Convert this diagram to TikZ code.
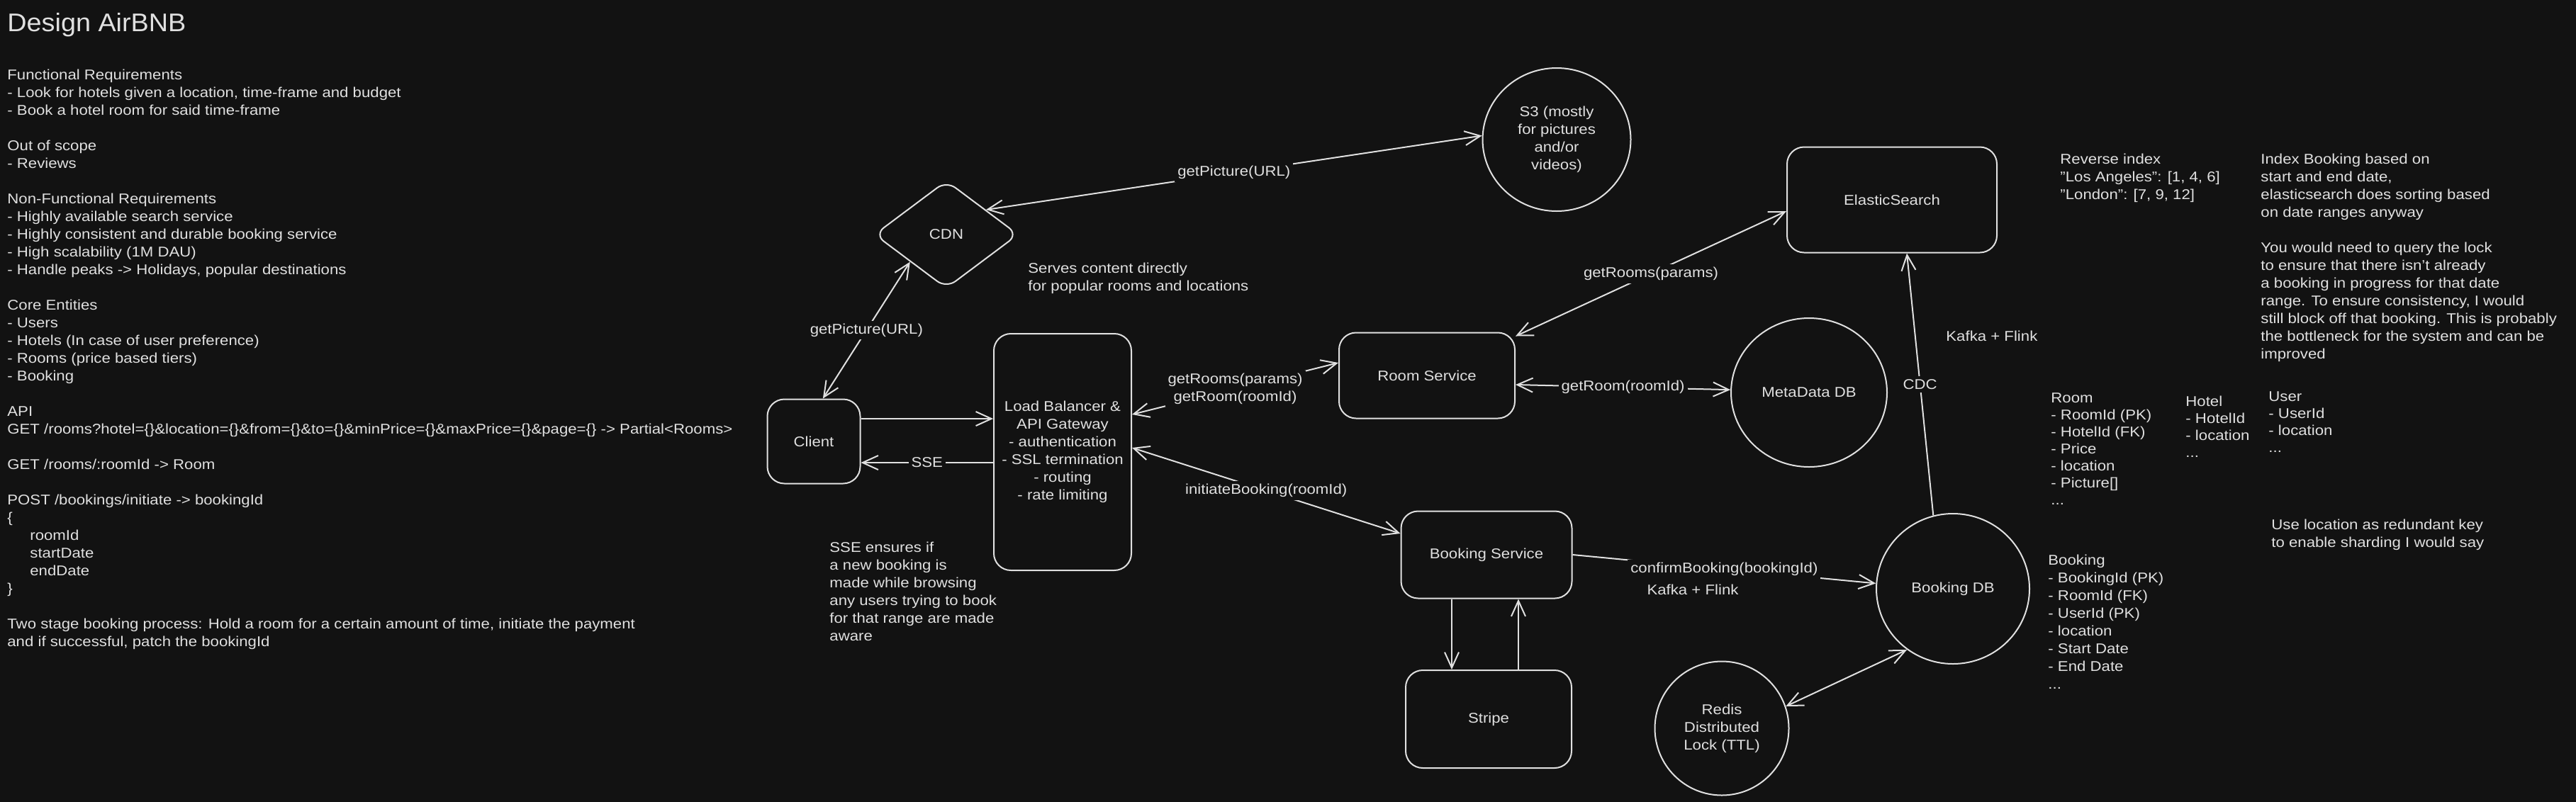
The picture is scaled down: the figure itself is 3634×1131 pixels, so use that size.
\documentclass[tikz,border=0pt]{standalone}
\usepackage{fontspec}
\setmainfont{Liberation Sans}[FakeStretch=1.11]
\newfontfamily\titlefont{Liberation Sans}[FakeStretch=1.05]
\usetikzlibrary{arrows.meta,positioning,shapes.geometric}
\definecolor{bgcol}{HTML}{121212}
\definecolor{ink}{HTML}{E0E0E0}

\tikzset{
  box/.style={draw=ink, rounded corners=12pt, line width=1pt, align=center},
  db/.style={draw=ink, ellipse, line width=1pt, inner sep=0pt, align=center},
  note/.style={align=left, inner sep=0pt, anchor=north west},
  tbl/.style={note, font=\fontsize{10}{12}\selectfont},
  lbl/.style={fill=bgcol, inner sep=2pt, align=center},
  link/.style={draw=ink, line width=1pt},
}

\begin{document}
\begin{tikzpicture}[x=0.5pt, y=-0.5pt, >={Straight Barb[length=11pt,width=10pt]},
    every node/.style={text=ink, font=\fontsize{10}{12.5}\selectfont}]
  \useasboundingbox (0,0) rectangle (3634,1131);
  \fill[bgcol] (-20,-20) rectangle (3654,1151);

  % notes on the left
  \node[note, font=\titlefont\fontsize{18}{22}\selectfont] (title) at (10,18) {Design AirBNB};
  \node[note] (reqs) at (10,98) {Functional Requirements\\
    - Look for hotels given a location, time-frame and budget\\
    - Book a hotel room for said time-frame\\
    ~\\
    Out of scope\\
    - Reviews\\
    ~\\
    Non-Functional Requirements\\
    - Highly available search service\\
    - Highly consistent and durable booking service\\
    - High scalability (1M DAU)\\
    - Handle peaks -> Holidays, popular destinations\\
    ~\\
    Core Entities\\
    - Users\\
    - Hotels (In case of user preference)\\
    - Rooms (price based tiers)\\
    - Booking\\
    ~\\
    API\\
    GET /rooms?hotel=\{\}\&location=\{\}\&from=\{\}\&to=\{\}\&minPrice=\{\}\&maxPrice=\{\}\&page=\{\} -> Partial<Rooms>\\
    ~\\
    GET /rooms/:roomId -> Room\\
    ~\\
    POST /bookings/initiate -> bookingId\\
    \{\\
    \hspace*{16pt}roomId\\
    \hspace*{16pt}startDate\\
    \hspace*{16pt}endDate\\
    \}\\
    ~\\
    Two stage booking process: Hold a room for a certain amount of time, initiate the payment\\
    and if successful, patch the bookingId};

  % components
  \node[box, minimum width=65.5pt, minimum height=59.5pt] (client) at (1148,623) {Client};
  \node[box, minimum width=97pt, minimum height=167pt] (lb) at (1499,638)
    {Load Balancer \&\\API Gateway\\- authentication\\- SSL termination\\- routing\\- rate limiting};
  \node[draw=ink, diamond, rounded corners=8pt, line width=1pt, inner sep=0pt,
    minimum width=101.5pt, minimum height=76pt] (cdn) at (1335,331) {CDN};
  \node[db, minimum width=104.5pt, minimum height=101pt] (s3) at (2196,197)
    {S3 (mostly\\for pictures\\and/or\\videos)};
  \node[box, minimum width=124pt, minimum height=60.5pt] (roomsvc) at (2013,530) {Room Service};
  \node[box, minimum width=148pt, minimum height=74.5pt] (es) at (2669,282) {ElasticSearch};
  \node[db, minimum width=110pt, minimum height=105pt] (metadb) at (2552,554) {MetaData DB};
  \node[box, minimum width=120.5pt, minimum height=61.5pt] (booksvc) at (2097,783) {Booking Service};
  \node[box, minimum width=117pt, minimum height=69pt] (stripe) at (2100,1015) {Stripe};
  \node[db, minimum width=108pt, minimum height=106pt] (bookdb) at (2755,831) {Booking DB};
  \node[db, minimum width=94.5pt, minimum height=94.5pt] (redis) at (2429,1028)
    {Redis\\Distributed\\Lock (TTL)};

  % side notes
  \node[note] (cdnNote) at (1450,371) {Serves content directly\\for popular rooms and locations};
  \node[note] (sseNote) at (1170,765) {SSE ensures if\\a new booking is\\made while browsing\\any users trying to book\\for that range are made\\aware};
  \node[note] (revIndex) at (2906,217) {Reverse index\\"Los Angeles": [1, 4, 6]\\"London": [7, 9, 12]};
  \node[note] (lockNote) at (3189,217) {Index Booking based on\\start and end date,\\elasticsearch does sorting based\\on date ranges anyway\\~\\You would need to query the lock\\to ensure that there isn't already\\a booking in progress for that date\\range. To ensure consistency, I would\\still block off that booking. This is probably\\the bottleneck for the system and can be\\improved};
  \node[note] (cdcNote) at (2745,467) {Kafka + Flink};
  \node[tbl] (roomTbl) at (2893,554) {Room\\- RoomId (PK)\\- HotelId (FK)\\- Price\\- location\\- Picture[]\\...};
  \node[tbl] (hotelTbl) at (3083,559) {Hotel\\- HotelId\\- location\\...};
  \node[tbl] (userTbl) at (3200,552) {User\\- UserId\\- location\\...};
  \node[note] (shardNote) at (3204,733) {Use location as redundant key\\to enable sharding I would say};
  \node[note] (bookingTbl) at (2889,783) {Booking\\- BookingId (PK)\\- RoomId (FK)\\- UserId (PK)\\- location\\- Start Date\\- End Date\\...};
  \node (kafkaLbl) at (2388,832) {Kafka + Flink};

  % connectors
  \coordinate (cliOut) at ([yshift=16pt]client.east);
  \coordinate (cliIn) at ([yshift=-15pt]client.east);
  \coordinate (payOut) at ([xshift=-24.5pt]booksvc.south);
  \coordinate (payIn) at ([xshift=22.5pt]booksvc.south);
  \draw[link, <->] (client.78) -- node[lbl] {getPicture(URL)} (cdn.217);
  \draw[link, <->] (cdn.32) -- node[lbl] {getPicture(URL)} (s3.177);
  \draw[link, ->] (cliOut) -- (cliOut -| lb.west);
  \draw[link, ->] (cliIn -| lb.west) -- node[lbl] {SSE} (cliIn);
  \draw[link, <->] ([yshift=26.5pt]lb.east) -- node[lbl] {getRooms(params)\\getRoom(roomId)} ([yshift=9pt]roomsvc.west);
  \draw[link, <->] ([yshift=-3pt]roomsvc.north east) -- node[lbl] {getRooms(params)} ([yshift=-8pt]es.west);
  \draw[link, <->] ([yshift=-6.5pt]roomsvc.east) -- node[lbl] {getRoom(roomId)} (metadb.178);
  \draw[link, <->] ([yshift=3pt]lb.east) -- node[lbl] {initiateBooking(roomId)} ([yshift=15pt]booksvc.west);
  \draw[link, ->] (payOut) -- (payOut |- stripe.north);
  \draw[link, ->] (payIn |- stripe.north) -- (payIn);
  \draw[link, ->] (booksvc.east) -- node[lbl] {confirmBooking(bookingId)} (bookdb.176);
  \draw[link, ->] (bookdb.105) -- node[lbl] {CDC} ([xshift=10.5pt]es.south);
  \draw[link, <->] (bookdb.233) -- (redis.19);
\end{tikzpicture}
\end{document}
